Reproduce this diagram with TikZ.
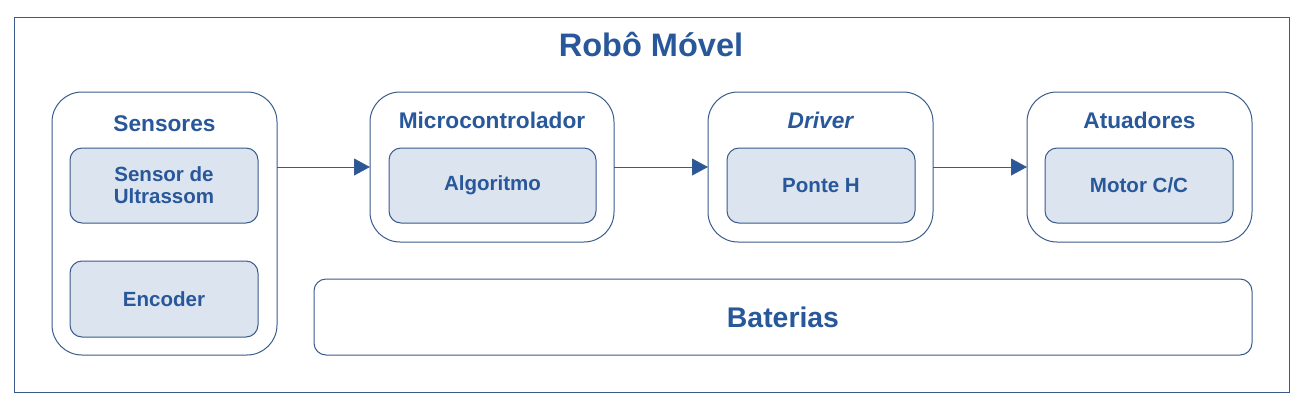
\documentclass[tikz,border=0pt]{standalone}
\usepackage{fontspec}
\setmainfont{Liberation Sans}
\usetikzlibrary{arrows.meta}
\definecolor{txtblue}{HTML}{28589A}
\definecolor{lineblue}{HTML}{3A5A8C}
\definecolor{fillblue}{HTML}{DCE4EF}
\tikzset{
  grp/.style={draw=lineblue, line width=0.75pt, rounded corners=22.5pt, inner sep=0pt, outer sep=0pt, anchor=north west},
  inbox/.style={draw=lineblue, fill=fillblue, line width=0.75pt, rounded corners=9pt, inner sep=0pt, outer sep=0pt, anchor=north west, minimum height=56.25pt, text=txtblue, font=\fontsize{15.4pt}{16.5pt}\selectfont\bfseries, align=center},
  grptitle/.style={text=txtblue, font=\fontsize{17pt}{20pt}\selectfont\bfseries, inner sep=0pt},
  arr/.style={draw=lineblue, line width=0.75pt, -{Triangle[length=12pt, width=12.75pt, fill=txtblue]}},
}
\begin{document}
\begin{tikzpicture}[x=0.75pt, y=-0.75pt]
\useasboundingbox (0,0) rectangle (1304,408);
\node[draw=lineblue, line width=0.75pt, inner sep=0pt, outer sep=0pt, anchor=north west, minimum width=956.25pt, minimum height=281.25pt] (frame) at (14,17) {};
\node[text=txtblue, font=\fontsize{24.4pt}{28pt}\selectfont\bfseries, inner sep=0pt] (title) at (651,45) {Robô Móvel};

% groups
\node[grp, minimum width=168.75pt, minimum height=197.25pt] (sens) at (52,92) {};
\node[grp, minimum width=183pt, minimum height=112.5pt] (micro) at (370,92) {};
\node[grp, minimum width=168.75pt, minimum height=112.5pt] (drv) at (708,92) {};
\node[grp, minimum width=168.75pt, minimum height=112.5pt] (atu) at (1027,92) {};

\node[grptitle] (sensT) at (164.5,124) {Sensores};
\node[grptitle] (microT) at (492,120) {Microcontrolador};
\node[grptitle] (drvT) at (820.5,120) {\itshape Driver};
\node[grptitle] (atuT) at (1139.5,120) {Atuadores};

% inner boxes
\node[inbox, minimum width=141pt] (ultra) at (70,148) {Sensor de\\Ultrassom};
\node[inbox, minimum width=141pt, minimum height=57pt] (enc) at (70,261) {Encoder};
\node[inbox, minimum width=155.25pt] (alg) at (389,148) {Algoritmo};
\node[inbox, minimum width=141pt] (ponte) at (727,148) {Ponte H};
\node[inbox, minimum width=141pt] (motor) at (1045,148) {Motor C/C};

% batteries
\node[grp, rounded corners=9pt, minimum width=703.5pt, minimum height=57pt, text=txtblue, font=\fontsize{21.3pt}{24pt}\selectfont\bfseries] (bat) at (314,279) {Baterias};

% arrows
\draw[arr] (sens.east |- micro.west) -- (micro.west);
\draw[arr] (micro.east) -- (drv.west);
\draw[arr] (drv.east) -- (atu.west);
\end{tikzpicture}
\end{document}
